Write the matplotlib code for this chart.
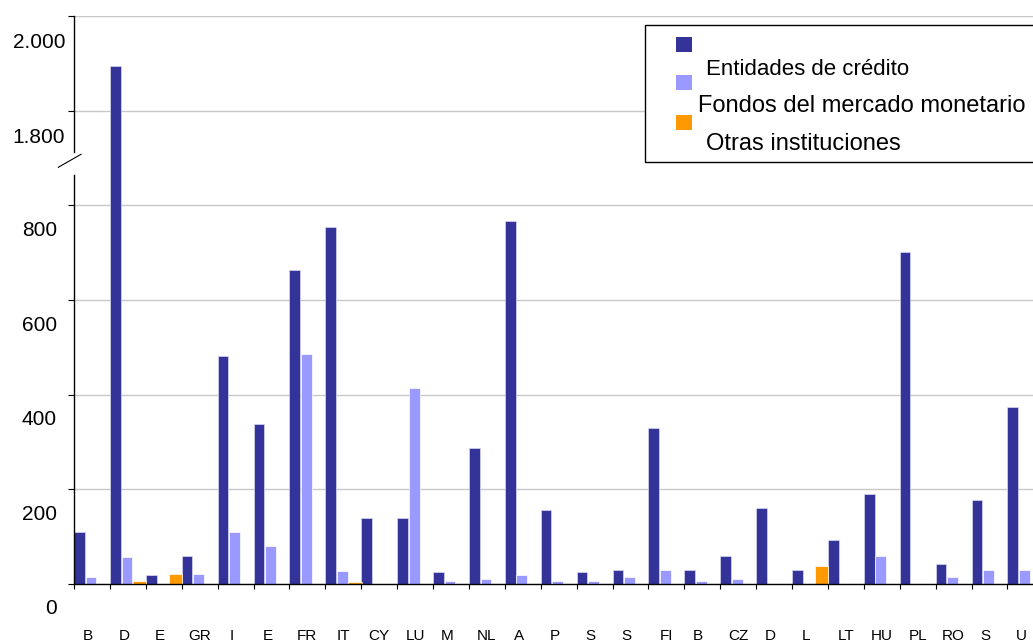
import numpy as np
import matplotlib
matplotlib.use("Agg")
import matplotlib.pyplot as plt
from matplotlib.patches import Rectangle
from matplotlib.lines import Line2D
from matplotlib.transforms import ScaledTranslation

plt.rcParams['font.family'] = ['Liberation Sans', 'DejaVu Sans']

categories = ["B", "D", "E", "GR", "I", "E", "FR", "IT", "CY", "LU", "M", "NL", "A", "P",
              "S", "S", "FI", "B", "CZ", "D", "L", "LT", "HU", "PL", "RO", "S", "U"]
entidades = [110, 1895, 18, 60, 481, 338, 663, 755, 140, 140, 26, 287, 767, 156, 26, 30,
             330, 30, 60, 161, 30, 94, 191, 701, 43, 177, 375]
fondos = [14, 56, 0, 22, 110, 81, 486, 27, 0, 414, 6, 10, 18, 6, 6, 14,
          30, 6, 10, 0, 0, 0, 60, 0, 14, 30, 30]
otras = [0, 6, 22, 0, 0, 0, 0, 5, 0, 0, 0, 0, 0, 0, 0, 0,
         0, 0, 0, 0, 39, 0, 0, 0, 0, 0, 0]
series_names = ["Entidades de crédito", "Fondos del mercado monetario", "Otras instituciones"]
ytick_values = [0, 200, 400, 600, 800, 1800, 2000]
ytick_labels = ["0", "200", "400", "600", "800", "1.800", "2.000"]

C_DARK = "#333399"
C_LIGHT = "#9999FF"
C_ORANGE = "#FF9900"

W, H = 1033, 641
fig = plt.figure(figsize=(W / 100, H / 100), dpi=100)

def fx(px):
    return px / W

def fy(py):
    return 1 - py / H

ax_left, ax_right, ax_top, ax_bot = 74, 1043.3, 16, 584
ax = fig.add_axes([fx(ax_left), fy(ax_bot), (ax_right - ax_left) / W, (ax_bot - ax_top) / H])

# broken axis scale: values above 1700 are shifted down by 800
def fwd(v):
    return np.interp(v, [-1e5, 900, 1700, 1e5], [-1e5, 899.99, 900, 1e5 - 800])

def inv(d):
    return np.interp(d, [-1e5, 899.99, 900, 1e5 - 800], [-1e5, 900, 1700, 1e5])

ax.set_yscale('function', functions=(fwd, inv))

x = np.arange(len(categories))
ax.bar(x + 0.0, entidades, 0.30, align='edge', color=C_DARK, edgecolor='#d8d8f0', linewidth=0.5, zorder=3)
ax.bar(x + 0.325, fondos, 0.30, align='edge', color=C_LIGHT, edgecolor='white', linewidth=0.5, zorder=3)
ax.bar(x + 0.64, otras, 0.37, align='edge', color=C_ORANGE, edgecolor='white', linewidth=0.5, zorder=3)

ax.set_xlim(0, len(categories))
ax.set_ylim(0, 2000)
ax.set_yticks(ytick_values)
ax.set_yticklabels([""] * len(ytick_values))
ax.yaxis.grid(True, color='#c8c8c8', linewidth=1.0, zorder=0)
ax.set_axisbelow(True)
ax.tick_params(axis='y', direction='out', length=4.3, width=0.8, color='black')

ax.set_xticks(x)
ax.set_xticklabels([""] * len(categories))
ax.tick_params(axis='x', direction='out', length=3.5, width=0.8, color='black')

for s in ['top', 'right', 'left']:
    ax.spines[s].set_visible(False)
ax.spines['bottom'].set_color('black')
ax.spines['bottom'].set_linewidth(1.0)
ax.spines['bottom'].set_zorder(4)

# left axis line with break
fig.add_artist(Line2D([fx(74), fx(74)], [fy(16), fy(152)], color='black', lw=1.0))
fig.add_artist(Line2D([fx(74), fx(74)], [fy(175), fy(584)], color='black', lw=1.0))
fig.add_artist(Line2D([fx(58.3), fx(81)], [fy(167.3), fy(154.3)], color='black', lw=0.8))

# y labels (drawn offset below their gridlines, as in the reference)
ytrans = ax.get_yaxis_transform()
for v, lab in zip(ytick_values, ytick_labels):
    if v >= 1800:
        dx, dy = -9, -27
    else:
        dx, dy = -17, -25
    ax.text(0, v, lab, transform=ytrans + ScaledTranslation(dx / 100, dy / 100, fig.dpi_scale_trans),
            ha='right', va='center', fontsize=15, color='black', clip_on=False)

# x labels
xtrans = ax.get_xaxis_transform()
for i, lab in enumerate(categories):
    dx = -4 if len(lab) == 1 else 0
    ax.text(i + 0.5, 0, lab, transform=xtrans + ScaledTranslation(dx / 100, -56 / 100, fig.dpi_scale_trans),
            ha='center', va='baseline', fontsize=11, color='black', clip_on=False)

# legend box
fig.add_artist(Rectangle((fx(645), fy(162)), fx(1060) - fx(645), fy(25) - fy(162),
                         facecolor='white', edgecolor='black', lw=1.0, zorder=10))
for (top, col) in [(37, C_DARK), (75, C_LIGHT), (115, C_ORANGE)]:
    fig.add_artist(Rectangle((fx(676), fy(top + 15)), fx(692) - fx(676), fy(top) - fy(top + 15),
                             facecolor=col, edgecolor='none', zorder=11))
fig.text(fx(705.5), fy(75), series_names[0], fontsize=16, ha='left', va='baseline', zorder=12)
fig.text(fx(698.5), fy(112.5), series_names[1], fontsize=17, ha='left', va='baseline', zorder=12)
fig.text(fx(705.5), fy(150.5), series_names[2], fontsize=17, ha='left', va='baseline', zorder=12)

fig.savefig("out.png", dpi=100)
